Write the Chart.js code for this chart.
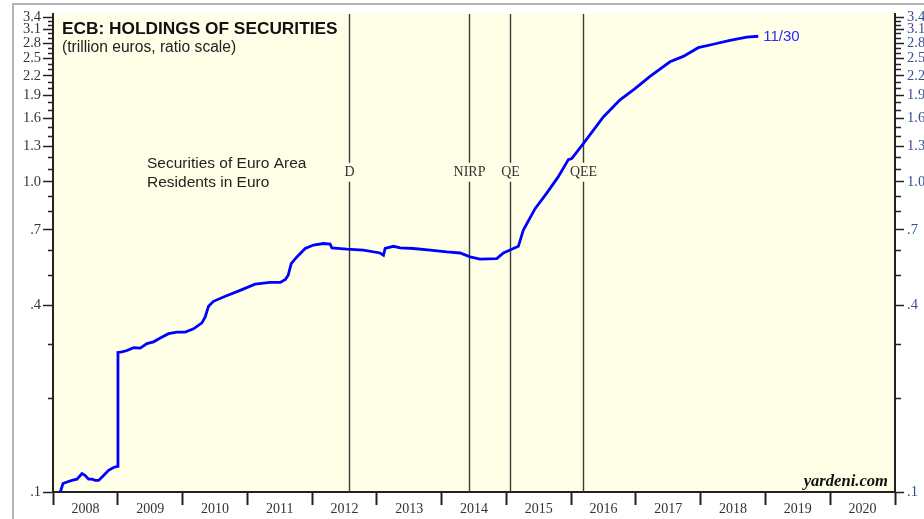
<!DOCTYPE html>
<html>
<head>
<meta charset="utf-8">
<script src="https://cdn.jsdelivr.net/npm/chart.js@4.4.1/dist/chart.umd.min.js"></script>
<style>
html,body{margin:0;padding:0;background:#fff;}
#wrap{position:relative;width:924px;height:519px;}
</style>
</head>
<body>
<div id="wrap"><canvas id="c" width="924" height="519"></canvas></div>
<script>
// ---- data ----
const dates = [2008.113, 2008.154, 2008.216, 2008.293, 2008.370, 2008.448, 2008.498, 2008.549, 2008.602, 2008.653,
  2008.704, 2008.781, 2008.858, 2008.935, 2008.990, 2009.003, 2009.065, 2009.142, 2009.244, 2009.347,
  2009.451, 2009.552, 2009.656, 2009.784, 2009.914, 2010.042, 2010.170, 2010.299, 2010.350, 2010.401,
  2010.478, 2010.660, 2010.890, 2011.120, 2011.350, 2011.510, 2011.588, 2011.631, 2011.678, 2011.765,
  2011.894, 2012.022, 2012.176, 2012.279, 2012.306, 2012.537, 2012.793, 2013.051, 2013.102, 2013.128,
  2013.256, 2013.360, 2013.565, 2013.823, 2014.080, 2014.285, 2014.440, 2014.594, 2014.852, 2014.954,
  2015.057, 2015.185, 2015.262, 2015.443, 2015.623, 2015.802, 2015.957, 2016.009, 2016.188, 2016.497,
  2016.755, 2016.986, 2017.218, 2017.526, 2017.731, 2017.963, 2018.194, 2018.452, 2018.710, 2018.889];
const holdings = [0.100, 0.1065, 0.1077, 0.109, 0.110, 0.1146, 0.113, 0.110, 0.110, 0.109,
  0.109, 0.113, 0.1175, 0.120, 0.121, 0.282, 0.283, 0.286, 0.292, 0.291,
  0.301, 0.305, 0.314, 0.324, 0.328, 0.328, 0.336, 0.351, 0.367, 0.397,
  0.412, 0.428, 0.447, 0.468, 0.474, 0.474, 0.485, 0.500, 0.545, 0.573,
  0.610, 0.626, 0.633, 0.630, 0.613, 0.607, 0.603, 0.590, 0.580, 0.610,
  0.620, 0.613, 0.610, 0.603, 0.595, 0.590, 0.573, 0.564, 0.566, 0.590,
  0.603, 0.620, 0.700, 0.820, 0.920, 1.040, 1.180, 1.190, 1.330, 1.620,
  1.840, 2.000, 2.190, 2.440, 2.540, 2.710, 2.780, 2.860, 2.930, 2.950];
const lastLabel = '11/30';

const yearLabels = ['2008','2009','2010','2011','2012','2013','2014','2015','2016','2017','2018','2019','2020'];
const yearStart = 2008, yearEnd = 2021;

const yMajorTicks  = [0.1, 0.4, 0.7, 1.0, 1.3, 1.6, 1.9, 2.2, 2.5, 2.8, 3.1, 3.4];
const yMajorLabels = ['.1', '.4', '.7', '1.0', '1.3', '1.6', '1.9', '2.2', '2.5', '2.8', '3.1', '3.4'];
const yMinorTicks  = [0.2, 0.3, 0.5, 0.6, 0.8, 0.9, 1.1, 1.2, 1.4, 1.5, 1.7, 1.8, 2.0, 2.1, 2.3, 2.4, 2.6, 2.7, 2.9, 3.0, 3.2, 3.3];
const yMin = 0.1, yMax = 3.48;

const eventDates  = [2012.57, 2014.43, 2015.06, 2016.19];
const eventLabels = ['D', 'NIRP', 'QE', 'QEE'];
const eventLabelLevel = 1.07;

const titleText = 'ECB: HOLDINGS OF SECURITIES';
const subtitleText = '(trillion euros, ratio scale)';
const seriesNote = ['Securities of Euro Area', 'Residents in Euro'];
const sourceText = 'yardeni.com';

// ---- helpers ----
const allYTicks = yMajorTicks.concat(yMinorTicks).sort((a, b) => a - b);
function majorIndex(v) { return yMajorTicks.findIndex(t => Math.abs(t - v) < 1e-6); }
const xTickValues = [];
for (let i = 0; i <= (yearEnd - yearStart) * 2; i++) xTickValues.push(yearStart + i / 2);

const serif = "'Liberation Serif', 'Times New Roman', serif";
const sans = "'Liberation Sans', Arial, sans-serif";

function yAxis(position, labelColor, width) {
  return {
    type: 'logarithmic', position, min: yMin, max: yMax,
    afterBuildTicks: s => { s.ticks = allYTicks.map(v => ({ value: v })); },
    afterFit: s => { s.width = width; },
    border: { display: true, color: '#222', width: 2 },
    grid: {
      drawOnChartArea: false, drawTicks: true, tickLength: 10, tickWidth: 1.5, tickColor: '#222',
      tickBorderDash: ctx => {
        const major = ctx.tick && majorIndex(ctx.tick.value) >= 0;
        if (major) return position === 'left' ? [] : [8, 100];
        return position === 'left' ? [0, 5, 5, 100] : [5, 100];
      }
    },
    ticks: {
      autoSkip: false, padding: position === 'left' ? 2 : 2, color: labelColor,
      font: { family: serif, size: 14.5 },
      callback: v => { const i = majorIndex(v); return i >= 0 ? yMajorLabels[i] : ''; }
    }
  };
}

const bgPlugin = {
  id: 'bg',
  beforeDraw(chart) {
    const { ctx, chartArea: a } = chart;
    ctx.save();
    ctx.fillStyle = '#fff';
    ctx.fillRect(0, 0, chart.width, chart.height);
    ctx.strokeStyle = '#b4b4b4';
    ctx.lineWidth = 2;
    ctx.beginPath();
    ctx.moveTo(13, 519); ctx.lineTo(13, 4); ctx.lineTo(924, 4);
    ctx.stroke();
    ctx.fillStyle = '#FFFFE8';
    ctx.fillRect(a.left, a.top, a.right - a.left, a.bottom - a.top);
    ctx.restore();
  }
};

const eventPlugin = {
  id: 'events',
  beforeDatasetsDraw(chart) {
    const { ctx, chartArea: a, scales: { x, y } } = chart;
    const ly = y.getPixelForValue(eventLabelLevel);
    ctx.save();
    ctx.strokeStyle = '#3a3a3a';
    ctx.lineWidth = 1.4;
    ctx.fillStyle = '#333';
    ctx.font = '14px ' + serif;
    ctx.textAlign = 'center';
    ctx.textBaseline = 'middle';
    eventDates.forEach((d, i) => {
      const px = Math.round(x.getPixelForValue(d)) + 0.5;
      ctx.beginPath();
      ctx.moveTo(px, a.top); ctx.lineTo(px, ly - 10);
      ctx.moveTo(px, ly + 9); ctx.lineTo(px, a.bottom);
      ctx.stroke();
      ctx.fillText(eventLabels[i], px, ly);
    });
    ctx.restore();
  },
  afterDatasetsDraw(chart) {
    const { ctx, chartArea: a, scales: { x, y } } = chart;
    ctx.save();
    ctx.textBaseline = 'middle';
    ctx.fillStyle = '#111';
    ctx.font = 'bold 17.3px ' + sans;
    ctx.fillText(titleText, a.left + 9, 29);
    ctx.font = '15.6px ' + sans;
    ctx.fillStyle = '#222';
    ctx.fillText(subtitleText, a.left + 9, 48);
    ctx.font = '15.5px ' + sans;
    ctx.fillText(seriesNote[0], 147, 164);
    ctx.fillText(seriesNote[1], 147, 183);
    ctx.font = 'bold italic 16.6px ' + serif;
    ctx.textAlign = 'right';
    ctx.fillStyle = '#111';
    ctx.fillText(sourceText, a.right - 7, a.bottom - 10);
    const lx = x.getPixelForValue(dates[dates.length - 1]);
    const lyy = y.getPixelForValue(holdings[holdings.length - 1]);
    ctx.textAlign = 'left';
    ctx.fillStyle = '#2a2aff';
    ctx.font = '15px ' + sans;
    ctx.fillText(lastLabel, lx + 5, lyy + 1);
    ctx.restore();
  }
};

new Chart(document.getElementById('c'), {
  type: 'line',
  data: {
    datasets: [{
      data: dates.map((d, i) => ({ x: d, y: holdings[i] })),
      borderColor: '#0000ff', borderWidth: 2.8, pointRadius: 0, tension: 0, fill: false
    }]
  },
  options: {
    responsive: false, animation: false, devicePixelRatio: 1,
    layout: { padding: { top: 14, left: 0, right: 0, bottom: 0 } },
    plugins: { legend: { display: false }, tooltip: { enabled: false }, title: { display: false } },
    scales: {
      x: {
        type: 'linear', position: 'bottom', min: yearStart, max: yearEnd,
        afterBuildTicks: s => { s.ticks = xTickValues.map(v => ({ value: v })); },
        afterFit: s => { s.height = 27; },
        border: { display: true, color: '#222', width: 2 },
        grid: {
          drawOnChartArea: false, tickLength: 13, tickWidth: 2,
          tickColor: ctx => (ctx.tick && Math.abs(ctx.tick.value % 1) < 1e-6) ? '#222' : 'rgba(0,0,0,0)'
        },
        ticks: {
          autoSkip: false, maxRotation: 0, padding: -4, color: '#333',
          font: { family: serif, size: 14 },
          callback: v => {
            if (Math.abs(v % 1 - 0.5) < 1e-6) return yearLabels[Math.floor(v) - yearStart] || '';
            return '';
          }
        }
      },
      y: yAxis('left', '#3a3535', 53),
      y2: yAxis('right', '#34508f', 29)
    }
  },
  plugins: [bgPlugin, eventPlugin]
});
</script>
</body>
</html>
